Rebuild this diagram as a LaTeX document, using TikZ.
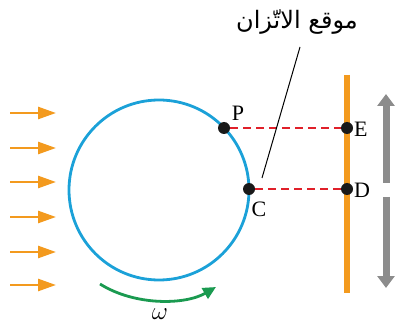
\documentclass[tikz,border=0pt]{standalone}
\usepackage{fontspec}
\setmainfont{Liberation Serif}
\newfontfamily\arabicfont[Script=Arabic]{DejaVu Sans}
\TeXXeTstate=1
\usetikzlibrary{arrows.meta}
\definecolor{wheelblue}{HTML}{1BA1D8}
\definecolor{barorange}{HTML}{F39A1E}
\definecolor{dashred}{HTML}{E0202A}
\definecolor{omgreen}{HTML}{1A9A50}
\definecolor{arrgray}{HTML}{8C8C8C}
\tikzset{
  flow/.style={barorange, line width=2.6pt, -{Triangle[length=18pt,width=12pt]}},
  dot/.style={circle, fill=black!90, inner sep=0pt, minimum size=12pt},
  lbl/.style={font=\fontsize{22}{22}\selectfont, inner sep=0pt},
  proj/.style={dashred, line width=2.6pt, dash pattern=on 8pt off 5pt},
  grayarr/.style={arrgray, line width=7pt, -{Triangle[length=12pt,width=17pt]}},
}
\begin{document}
\begin{tikzpicture}[x=1pt,y=-1pt]
\useasboundingbox (0,0) rectangle (396,331);
% incoming arrows
\foreach \i/\y in {1/113,2/148,3/182,4/217,5/252,6/285}{
  \coordinate (fs\i) at (10,\y);
  \coordinate (fe\i) at (56,\y);
  \draw[flow] (fs\i) -- (fe\i);
}
% wheel
\coordinate (O) at (159,190);
\draw[wheelblue, line width=2.8pt] (O) circle[radius=90];
% bar
\coordinate (bt) at (347,75);
\coordinate (bb) at (347,293);
\draw[barorange, line width=6pt] (bt) -- (bb);
% gray arrows
\coordinate (g1s) at (386,183);
\coordinate (g1e) at (386,94);
\coordinate (g2s) at (386,197);
\coordinate (g2e) at (386,288);
\draw[grayarr] (g1s) -- (g1e);
\draw[grayarr] (g2s) -- (g2e);
% dots
\node[dot] (P) at (224,128) {};
\node[dot] (C) at (249,189) {};
\node[dot] (E) at (347,128) {};
\node[dot] (D) at (347,189) {};
\draw[proj] (P) -- (E);
\draw[proj] (C) -- (D);
% labels
\node[lbl] (Pl) at (238,113) {P};
\node[lbl] (Cl) at (259,209) {C};
\node[lbl, anchor=west] (El) at (354,129) {E};
\node[lbl, anchor=west] (Dl) at (354,190) {D};
% leader
\node[font=\arabicfont\fontsize{24}{24}\selectfont, inner sep=1pt] (eq) at (297,22) {\beginR موقع الاتّزان\endR};
\coordinate (lt) at (300,47);
\coordinate (lb) at (262,178);
\draw[black, line width=1pt] (lt) -- (lb);
% omega
\coordinate (ws) at (100,284);
\coordinate (we) at (216,287);
\draw[omgreen, line width=2.8pt, -{Triangle[length=13pt,width=12pt]}] (ws) .. controls (135,306) and (185,305) .. (we);
\node[font=\fontsize{27}{27}\selectfont, inner sep=0pt] (w) at (160,314) {$\omega$};
\end{tikzpicture}
\end{document}
